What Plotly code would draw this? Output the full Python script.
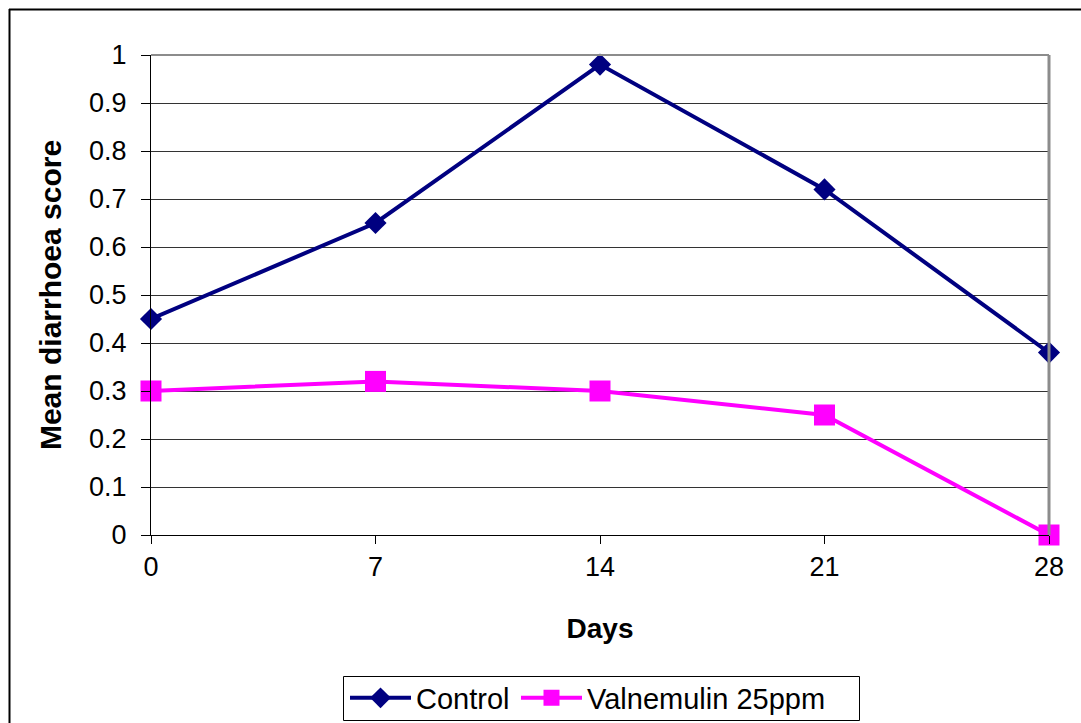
import plotly.graph_objects as go

days = [0, 7, 14, 21, 28]
control = [0.45, 0.65, 0.98, 0.72, 0.38]
valnemulin = [0.30, 0.32, 0.30, 0.25, 0.0]
y_ticks = [0, 0.1, 0.2, 0.3, 0.4, 0.5, 0.6, 0.7, 0.8, 0.9, 1]
y_tick_text = ["0", "0.1", "0.2", "0.3", "0.4", "0.5", "0.6", "0.7", "0.8", "0.9", "1"]

FONT = "Liberation Sans, Arial, sans-serif"

W, H = 1081, 723
L, R, T, B = 151, 32, 55, 188
pw, ph = W - L - R, H - T - B


def px_x(p):
    return (p - L) / pw


def px_y(p):
    return (H - B - p) / ph


fig = go.Figure()
fig.add_trace(go.Scatter(
    x=days, y=control, name="Control", mode="lines+markers",
    line=dict(color="#000080", width=4),
    marker=dict(symbol="diamond", size=17, color="#000080"),
    cliponaxis=False, legend="legend",
))
fig.add_trace(go.Scatter(
    x=days, y=valnemulin, name="Valnemulin 25ppm", mode="lines+markers",
    line=dict(color="#FF00FF", width=4),
    marker=dict(symbol="square", size=21, color="#FF00FF"),
    cliponaxis=False, legend="legend2",
))

shapes = [
    # outer chart frame: top and left edges
    dict(type="line", xref="paper", yref="paper",
         x0=px_x(9), x1=px_x(1081), y0=px_y(9.5), y1=px_y(9.5),
         line=dict(color="black", width=2), layer="below"),
    dict(type="line", xref="paper", yref="paper",
         x0=px_x(9.5), x1=px_x(9.5), y0=px_y(9), y1=px_y(723),
         line=dict(color="black", width=2), layer="below"),
    # plot-area border
    dict(type="line", xref="paper", yref="paper", x0=0, x1=1, y0=1, y1=1,
         line=dict(color="#8c8c8c", width=2), layer="above"),
    dict(type="line", xref="paper", yref="paper", x0=1, x1=1, y0=0, y1=1,
         line=dict(color="#8c8c8c", width=3), layer="above"),
    # legend box
    dict(type="rect", xref="paper", yref="paper",
         x0=px_x(343.5), x1=px_x(859.5), y0=px_y(720.5), y1=px_y(676.5),
         line=dict(color="black", width=1), fillcolor="white", layer="below"),
]

legend_common = dict(
    orientation="h", yanchor="middle", y=px_y(698),
    borderwidth=0, bgcolor="rgba(0,0,0,0)",
    font=dict(family=FONT, size=29, color="black"),
    itemwidth=61, xanchor="left",
)

fig.update_layout(
    width=W, height=H,
    margin=dict(l=L, r=R, t=T, b=B, pad=0, autoexpand=False),
    paper_bgcolor="white", plot_bgcolor="white",
    font=dict(family=FONT, size=24, color="black"),
    showlegend=True,
    legend=dict(legend_common, x=px_x(345)),
    legend2=dict(legend_common, x=px_x(516)),
    xaxis=dict(
        range=[0, 28], tickvals=days, ticktext=[str(d) for d in days],
        showgrid=False, zeroline=False, automargin=False,
        showline=True, linecolor="black", linewidth=1,
        ticks="outside", ticklen=8, tickcolor="black", tickwidth=1,
        tickfont=dict(size=27),
        title=dict(text="<b>Days</b>", font=dict(size=28), standoff=36),
    ),
    yaxis=dict(
        range=[0, 1], tickvals=y_ticks, ticktext=y_tick_text,
        showgrid=True, gridcolor="#333333", gridwidth=1, zeroline=False,
        automargin=False,
        showline=True, linecolor="black", linewidth=1,
        ticks="outside", ticklen=9, tickcolor="black", tickwidth=1,
        tickfont=dict(size=27), ticklabelstandoff=9,
        title=dict(text="<b>Mean diarrhoea score</b>", font=dict(size=30), standoff=18),
    ),
    shapes=shapes,
)

fig.write_html("out.html")
